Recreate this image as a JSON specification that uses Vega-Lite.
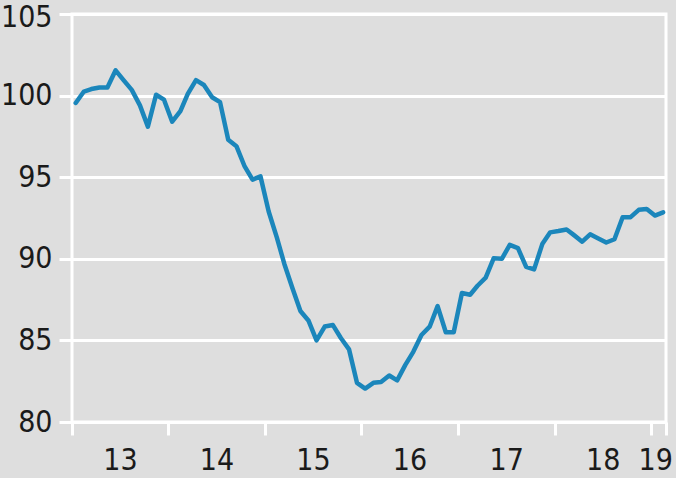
{
  "$schema": "https://vega.github.io/schema/vega-lite/v6.json",
  "width": 594,
  "height": 408,
  "autosize": {"type": "none"},
  "padding": {"left": 72, "top": 14, "right": 10, "bottom": 56},
  "background": "#dedede",
  "config": {
    "view": {"stroke": "#ffffff", "strokeWidth": 3, "fill": "#dedede"},
    "axis": {"labelFont": "Liberation Sans Narrow, DejaVu Sans Condensed, sans-serif", "labelFontSize": 30, "labelColor": "#1a1a1a", "titleFontSize": 0}
  },
  "data": {
    "values": [
      {"date": "2013-01-15", "value": 99.55},
      {"date": "2013-02-15", "value": 100.25},
      {"date": "2013-03-15", "value": 100.4},
      {"date": "2013-04-15", "value": 100.5},
      {"date": "2013-05-15", "value": 100.5},
      {"date": "2013-06-15", "value": 101.55},
      {"date": "2013-07-15", "value": 100.95},
      {"date": "2013-08-15", "value": 100.35},
      {"date": "2013-09-15", "value": 99.4},
      {"date": "2013-10-15", "value": 98.1},
      {"date": "2013-11-15", "value": 100.05},
      {"date": "2013-12-15", "value": 99.75},
      {"date": "2014-01-15", "value": 98.4},
      {"date": "2014-02-15", "value": 99.05},
      {"date": "2014-03-15", "value": 100.1},
      {"date": "2014-04-15", "value": 100.95},
      {"date": "2014-05-15", "value": 100.65},
      {"date": "2014-06-15", "value": 99.9},
      {"date": "2014-07-15", "value": 99.6},
      {"date": "2014-08-15", "value": 97.3},
      {"date": "2014-09-15", "value": 96.9},
      {"date": "2014-10-15", "value": 95.7},
      {"date": "2014-11-15", "value": 94.85},
      {"date": "2014-12-15", "value": 95.05},
      {"date": "2015-01-15", "value": 92.9},
      {"date": "2015-02-15", "value": 91.3},
      {"date": "2015-03-15", "value": 89.7},
      {"date": "2015-04-15", "value": 88.2},
      {"date": "2015-05-15", "value": 86.8},
      {"date": "2015-06-15", "value": 86.2},
      {"date": "2015-07-15", "value": 85.0},
      {"date": "2015-08-15", "value": 85.85},
      {"date": "2015-09-15", "value": 85.94},
      {"date": "2015-10-15", "value": 85.15},
      {"date": "2015-11-15", "value": 84.45},
      {"date": "2015-12-15", "value": 82.4},
      {"date": "2016-01-15", "value": 82.05},
      {"date": "2016-02-15", "value": 82.4},
      {"date": "2016-03-15", "value": 82.45},
      {"date": "2016-04-15", "value": 82.85},
      {"date": "2016-05-15", "value": 82.55},
      {"date": "2016-06-15", "value": 83.5},
      {"date": "2016-07-15", "value": 84.3},
      {"date": "2016-08-15", "value": 85.33},
      {"date": "2016-09-15", "value": 85.84},
      {"date": "2016-10-15", "value": 87.1},
      {"date": "2016-11-15", "value": 85.5},
      {"date": "2016-12-15", "value": 85.5},
      {"date": "2017-01-15", "value": 87.9},
      {"date": "2017-02-15", "value": 87.8},
      {"date": "2017-03-15", "value": 88.35},
      {"date": "2017-04-15", "value": 88.85},
      {"date": "2017-05-15", "value": 90.03},
      {"date": "2017-06-15", "value": 90.0},
      {"date": "2017-07-15", "value": 90.85},
      {"date": "2017-08-15", "value": 90.65},
      {"date": "2017-09-15", "value": 89.5},
      {"date": "2017-10-15", "value": 89.35},
      {"date": "2017-11-15", "value": 90.9},
      {"date": "2017-12-15", "value": 91.62},
      {"date": "2018-01-15", "value": 91.7},
      {"date": "2018-02-15", "value": 91.8},
      {"date": "2018-03-15", "value": 91.45},
      {"date": "2018-04-15", "value": 91.05},
      {"date": "2018-05-15", "value": 91.5},
      {"date": "2018-06-15", "value": 91.25},
      {"date": "2018-07-15", "value": 91.0},
      {"date": "2018-08-15", "value": 91.2},
      {"date": "2018-09-15", "value": 92.55},
      {"date": "2018-10-15", "value": 92.55},
      {"date": "2018-11-15", "value": 93.0},
      {"date": "2018-12-15", "value": 93.05},
      {"date": "2019-01-15", "value": 92.65},
      {"date": "2019-02-15", "value": 92.85}
    ]
  },
  "mark": {"type": "line", "color": "#1b86bb", "strokeWidth": 4.5, "strokeJoin": "round", "strokeCap": "round", "clip": false},
  "encoding": {
    "x": {
      "field": "date",
      "type": "temporal",
      "title": null,
      "scale": {"type": "utc", "domain": [{"year": 2013, "month": 1, "date": 1, "utc": true}, {"year": 2019, "month": 2, "date": 26, "utc": true}]},
      "axis": {
        "values": [
          {"year": 2013, "month": 1, "date": 1, "utc": true},
          {"year": 2014, "month": 1, "date": 1, "utc": true},
          {"year": 2015, "month": 1, "date": 1, "utc": true},
          {"year": 2016, "month": 1, "date": 1, "utc": true},
          {"year": 2017, "month": 1, "date": 1, "utc": true},
          {"year": 2018, "month": 1, "date": 1, "utc": true},
          {"year": 2019, "month": 1, "date": 1, "utc": true},
          {"year": 2019, "month": 2, "date": 26, "utc": true}
        ],
        "labelExpr": "utcmonth(datum.value) == 0 ? slice(toString(utcyear(datum.value)), 2) : ''",
        "labelOffset": {"condition": {"test": "utcyear(datum.value) == 2019", "value": 4}, "value": 48},
        "labelAlign": "center",
        "labelOverlap": false,
        "labelFlush": false,
        "labelBound": false,
        "labelPadding": 10,
        "domain": false,
        "grid": false,
        "ticks": true,
        "tickColor": "#ffffff",
        "tickWidth": 3,
        "tickSize": 13
      }
    },
    "y": {
      "field": "value",
      "type": "quantitative",
      "title": null,
      "scale": {"domain": [80, 105], "nice": false, "zero": false},
      "axis": {
        "values": [80, 85, 90, 95, 100, 105],
        "domain": false,
        "grid": true,
        "gridColor": "#ffffff",
        "gridWidth": 3,
        "gridOpacity": 1,
        "ticks": true,
        "tickColor": "#ffffff",
        "tickWidth": 3,
        "tickSize": 13,
        "labelPadding": 7,
        "labelOffset": {"condition": {"test": "datum.value == 105", "value": 3}, "value": 0},
        "labelOverlap": false,
        "labelBound": false,
        "labelFlush": false
      }
    }
  }
}
